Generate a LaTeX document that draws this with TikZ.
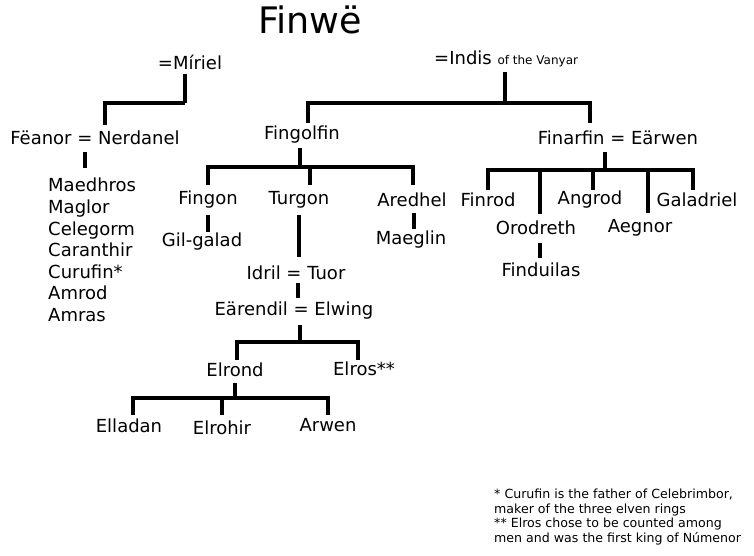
\documentclass[tikz,border=0pt]{standalone}
\usepackage{fontspec}
\setmainfont{DejaVu Sans}
\begin{document}
\begin{tikzpicture}[x=1pt,y=-1pt,
  nm/.style={inner sep=0pt,font=\fontsize{18}{20}\selectfont},
  ln/.style={line width=3.5pt}]
\useasboundingbox (0,0) rectangle (754,556);
\fill[white] (0,0) rectangle (754,556);
\node[nm,font=\fontsize{36.5}{40}\selectfont] (finwe) at (310,20) {Finwë};
\node[nm] (miriel) at (190,62) {=Míriel};
\node[nm,anchor=west] (indis) at (434,59) {=Indis {\fontsize{12}{14}\selectfont of the Vanyar}};
\node[nm] (feanor) at (95,138) {Fëanor = Nerdanel};
\node[nm,anchor=north west,align=left,font=\fontsize{18}{21.6}\selectfont] (sons) at (48,178) {Maedhros\\Maglor\\Celegorm\\Caranthir\\Curufin*\\Amrod\\Amras};
\node[nm] (fingolfin) at (302,135) {Fingolfin};
\node[nm] (finarfin) at (618,138) {Finarfin = Eärwen};
\node[nm] (fingon) at (208,200) {Fingon};
\node[nm] (turgon) at (299,200) {Turgon};
\node[nm] (aredhel) at (412,200) {Aredhel};
\node[nm] (gilgalad) at (202,242) {Gil-galad};
\node[nm] (maeglin) at (411,240) {Maeglin};
\node[nm] (idril) at (296,273) {Idril = Tuor};
\node[nm] (earendil) at (294,311) {Eärendil = Elwing};
\node[nm] (elrond) at (235,370) {Elrond};
\node[nm] (elros) at (364,369) {Elros**};
\node[nm] (elladan) at (129,426) {Elladan};
\node[nm] (elrohir) at (222,428) {Elrohir};
\node[nm] (arwen) at (328,425) {Arwen};
\node[nm] (finrod) at (488,200) {Finrod};
\node[nm] (orodreth) at (536,228) {Orodreth};
\node[nm] (angrod) at (590,200) {Angrod};
\node[nm] (aegnor) at (640,228) {Aegnor};
\node[nm] (galadriel) at (697,200) {Galadriel};
\node[nm] (finduilas) at (541,270) {Finduilas};
\node[nm,anchor=north west,align=left,font=\fontsize{12.6}{14.5}\selectfont] (note) at (494,489) {* Curufin is the father of Celebrimbor,\\maker of the three elven rings\\** Elros chose to be counted among\\men and was the first king of Númenor};
% Miriel
\draw[ln] (185,74) -- (185,103) (105,103) -- (185,103) (105,101.25) -- (105,125);
\draw[ln] (85,152) -- (85,168);
% Indis
\draw[ln] (505,72) -- (505,103) (306.25,103) -- (591.75,103) (308,103) -- (308,123) (590,103) -- (590,123);
% Fingolfin
\draw[ln] (300,148) -- (300,167) (206.25,167) -- (414.75,167) (208,167) -- (208,185) (310,167) -- (310,185) (413,167) -- (413,185);
\draw[ln] (208,215) -- (208,232) (414,213) -- (414,229) (299,215) -- (299,257) (298,283) -- (298,298);
\draw[ln] (300,325) -- (300,342) (235.25,342) -- (359.75,342) (237,342) -- (237,360) (358,342) -- (358,360);
\draw[ln] (235,383) -- (235,398) (131.25,398) -- (329.75,398) (133,398) -- (133,415) (222,398) -- (222,415) (328,398) -- (328,415);
% Finarfin
\draw[ln] (605,152) -- (605,170) (486.25,170) -- (694.75,170) (488,170) -- (488,190) (540,170) -- (540,214) (593,170) -- (593,190) (648,170) -- (648,213) (693,170) -- (693,190);
\draw[ln] (540,243) -- (540,258);
\end{tikzpicture}
\end{document}
